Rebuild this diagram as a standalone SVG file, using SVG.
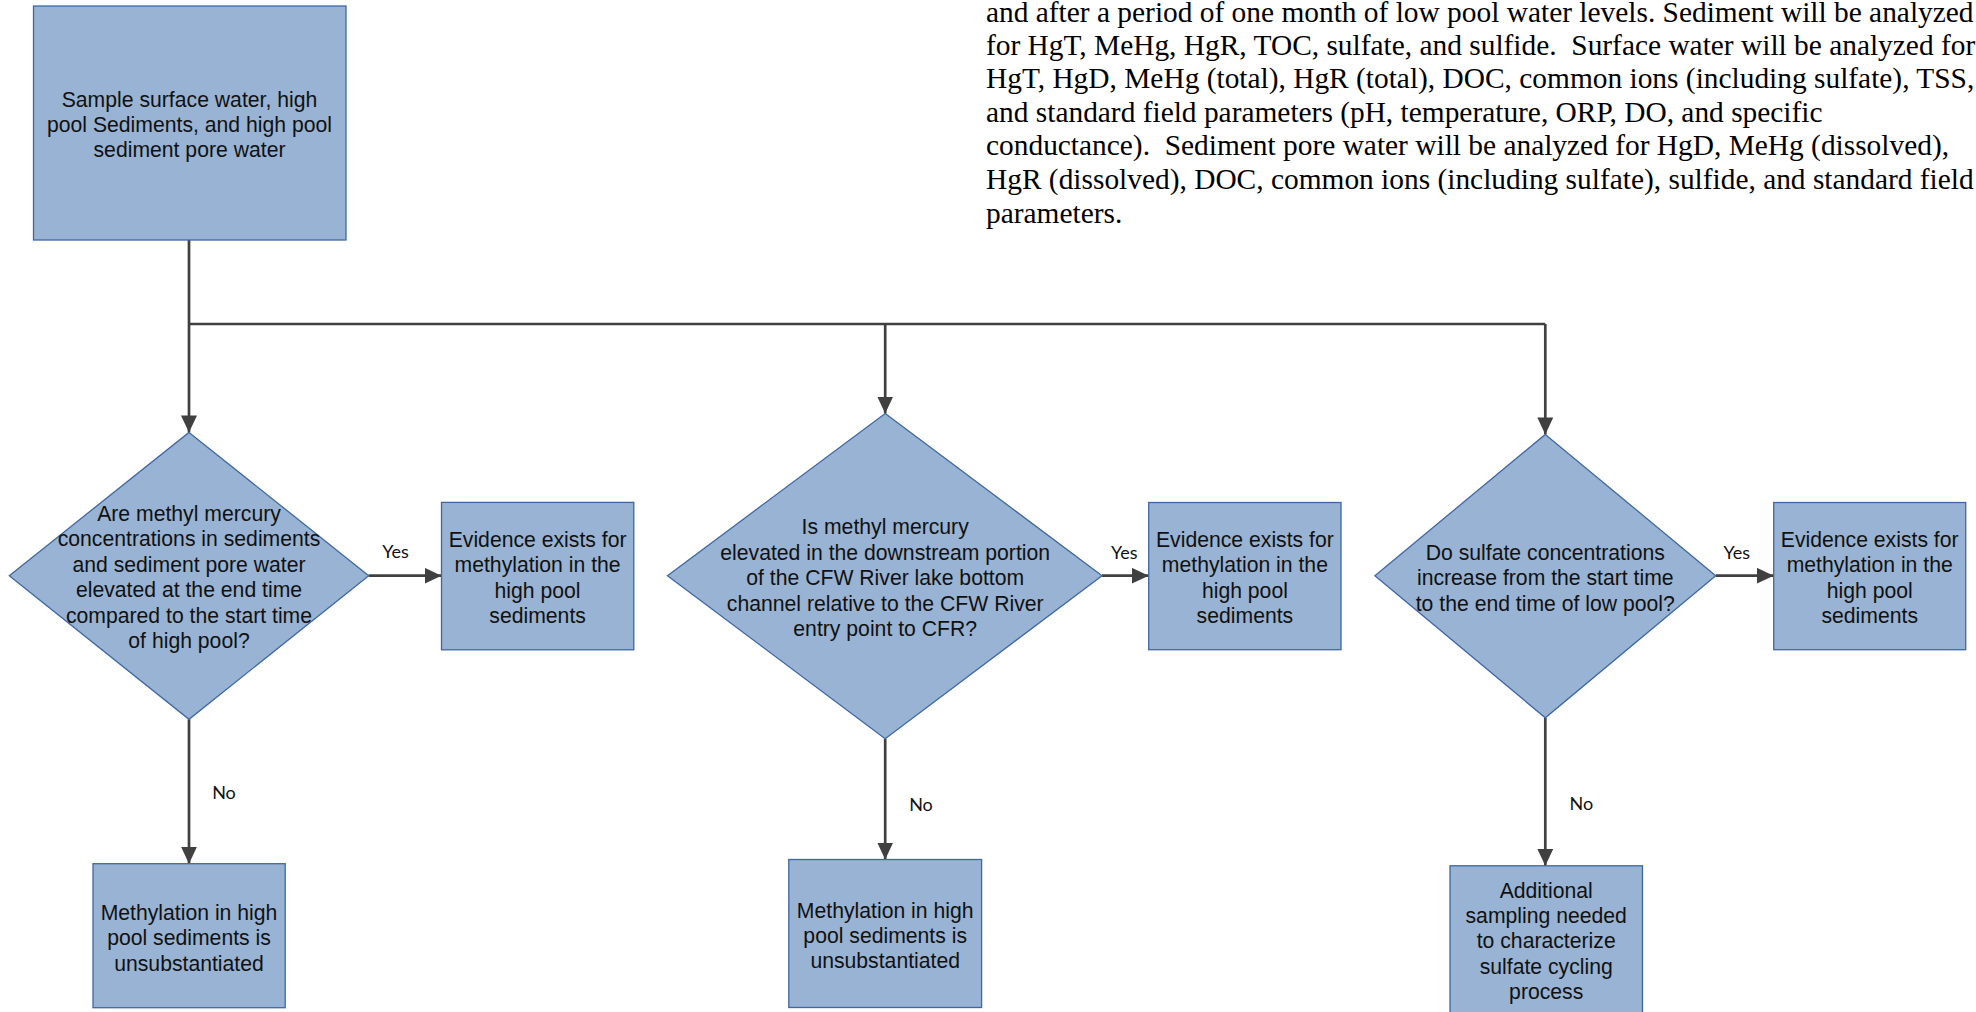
<svg xmlns="http://www.w3.org/2000/svg" width="1976" height="1012" viewBox="0 0 1976 1012">
<style>
.node{fill:#98B3D3;stroke:#3F68A2;stroke-width:1.3}
.t{font-family:"Liberation Sans",Arial,sans-serif;font-size:21.2px;fill:#111;text-anchor:middle}
.lbl{font-family:Lato,"Open Sans",sans-serif;font-size:18px;fill:#111;text-anchor:middle}
.para{font-family:"Liberation Serif","Times New Roman",serif;font-size:29.4px;fill:#000;white-space:pre}
.c{fill:none;stroke:#404040;stroke-width:2.7}
.ca{fill:none;stroke:#404040;stroke-width:2.7;marker-end:url(#arr)}
</style>
<defs>
<marker id="arr" markerUnits="userSpaceOnUse" markerWidth="18" markerHeight="16" refX="17" refY="8" orient="auto">
<path d="M0,0 L17,8 L0,16 z" fill="#404040"/>
</marker>
</defs>
<rect width="1976" height="1012" fill="#fff"/>

<g id="paragraph">
<text class="para" xml:space="preserve" x="986" y="21.5">and after a period of one month of low pool water levels. Sediment will be analyzed</text>
<text class="para" xml:space="preserve" x="986" y="54.7">for HgT, MeHg, HgR, TOC, sulfate, and sulfide.  Surface water will be analyzed for</text>
<text class="para" xml:space="preserve" x="986" y="88.1">HgT, HgD, MeHg (total), HgR (total), DOC, common ions (including sulfate), TSS,</text>
<text class="para" xml:space="preserve" x="986" y="121.7">and standard field parameters (pH, temperature, ORP, DO, and specific</text>
<text class="para" xml:space="preserve" x="986" y="155.3">conductance).  Sediment pore water will be analyzed for HgD, MeHg (dissolved),</text>
<text class="para" xml:space="preserve" x="986" y="189">HgR (dissolved), DOC, common ions (including sulfate), sulfide, and standard field</text>
<text class="para" xml:space="preserve" x="986" y="222.7">parameters.</text>
</g>

<g id="connectors">
<path class="ca" d="M189,240 V432.4"/>
<path class="c" d="M189,324 H1545.3"/>
<path class="ca" d="M885.2,324 V413.5"/>
<path class="ca" d="M1545.3,324 V434.4"/>
<path class="ca" d="M368.7,575.7 H441.5"/>
<path class="ca" d="M1102,575.7 H1148.7"/>
<path class="ca" d="M1715.7,575.7 H1773.7"/>
<path class="ca" d="M189,719.3 V863.7"/>
<path class="ca" d="M885.2,738.7 V859.5"/>
<path class="ca" d="M1545.3,717.8 V865.8"/>
<text class="lbl" x="395.6" y="558">Yes</text>
<text class="lbl" x="1124.4" y="559">Yes</text>
<text class="lbl" x="1736.8" y="559">Yes</text>
<text class="lbl" x="224" y="799">No</text>
<text class="lbl" x="921" y="811">No</text>
<text class="lbl" x="1581.4" y="809.5">No</text>
</g>

<g id="start">
<rect class="node" x="33.5" y="6" width="312.5" height="234"/>
<text class="t" x="189.5" y="106.7">Sample surface water, high</text>
<text class="t" x="189.5" y="131.7">pool Sediments, and high pool</text>
<text class="t" x="189.5" y="156.7">sediment pore water</text>
</g>

<g id="decision1">
<polygon class="node" points="189,432.4 368.7,575.7 189,719.3 9.3,575.7"/>
<text class="t" x="189" y="521">Are methyl mercury</text>
<text class="t" x="189" y="546.4">concentrations in sediments</text>
<text class="t" x="189" y="571.8">and sediment pore water</text>
<text class="t" x="189" y="597.2">elevated at the end time</text>
<text class="t" x="189" y="622.6">compared to the start time</text>
<text class="t" x="189" y="648">of high pool?</text>
</g>

<g id="yes1">
<rect class="node" x="441.5" y="502.4" width="192.3" height="147.4"/>
<text class="t" x="537.6" y="547">Evidence exists for</text>
<text class="t" x="537.6" y="572.4">methylation in the</text>
<text class="t" x="537.6" y="597.8">high pool</text>
<text class="t" x="537.6" y="623.2">sediments</text>
</g>

<g id="no1">
<rect class="node" x="93" y="863.7" width="192.2" height="144"/>
<text class="t" x="189" y="920">Methylation in high</text>
<text class="t" x="189" y="945.4">pool sediments is</text>
<text class="t" x="189" y="970.8">unsubstantiated</text>
</g>

<g id="decision2">
<polygon class="node" points="885.2,413.5 1102,575.7 885.2,738.7 667.5,575.7"/>
<text class="t" x="885.2" y="534">Is methyl mercury</text>
<text class="t" x="885.2" y="559.5">elevated in the downstream portion</text>
<text class="t" x="885.2" y="585">of the CFW River lake bottom</text>
<text class="t" x="885.2" y="610.5">channel relative to the CFW River</text>
<text class="t" x="885.2" y="636">entry point to CFR?</text>
</g>

<g id="yes2">
<rect class="node" x="1148.7" y="502.5" width="192.3" height="147.2"/>
<text class="t" x="1244.9" y="547">Evidence exists for</text>
<text class="t" x="1244.9" y="572.4">methylation in the</text>
<text class="t" x="1244.9" y="597.8">high pool</text>
<text class="t" x="1244.9" y="623.2">sediments</text>
</g>

<g id="no2">
<rect class="node" x="788.8" y="859.5" width="192.8" height="148"/>
<text class="t" x="885.2" y="917.6">Methylation in high</text>
<text class="t" x="885.2" y="943">pool sediments is</text>
<text class="t" x="885.2" y="968.4">unsubstantiated</text>
</g>

<g id="decision3">
<polygon class="node" points="1545.3,434.4 1715.7,575.7 1545.3,717.8 1374.9,575.7"/>
<text class="t" x="1545.3" y="559.8">Do sulfate concentrations</text>
<text class="t" x="1545.3" y="585.2">increase from the start time</text>
<text class="t" x="1545.3" y="610.6">to the end time of low pool?</text>
</g>

<g id="yes3">
<rect class="node" x="1773.7" y="502.5" width="192" height="147.2"/>
<text class="t" x="1869.7" y="547">Evidence exists for</text>
<text class="t" x="1869.7" y="572.4">methylation in the</text>
<text class="t" x="1869.7" y="597.8">high pool</text>
<text class="t" x="1869.7" y="623.2">sediments</text>
</g>

<g id="no3">
<rect class="node" x="1450" y="865.8" width="192.5" height="160"/>
<text class="t" x="1546.2" y="897.6">Additional</text>
<text class="t" x="1546.2" y="923">sampling needed</text>
<text class="t" x="1546.2" y="948.4">to characterize</text>
<text class="t" x="1546.2" y="973.8">sulfate cycling</text>
<text class="t" x="1546.2" y="999.2">process</text>
</g>
</svg>
